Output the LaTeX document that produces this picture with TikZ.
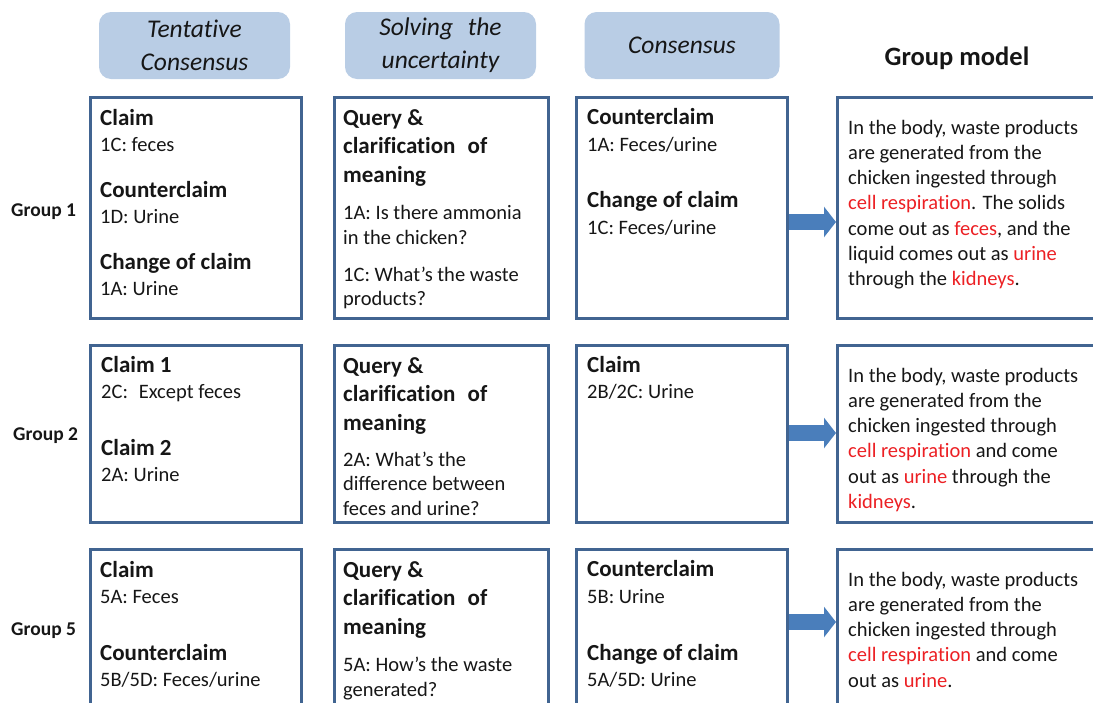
\documentclass[tikz,border=0pt]{standalone}
\usepackage{fontspec}
\setmainfont{Carlito}[Ligatures={NoCommon}]
\usetikzlibrary{arrows.meta}
\definecolor{hdrfill}{RGB}{185,205,229}
\definecolor{boxline}{RGB}{65,100,145}
\definecolor{arrowblue}{RGB}{74,126,187}
\definecolor{txtred}{RGB}{236,32,36}
\definecolor{txtdark}{RGB}{22,22,22}

\begin{document}
\begin{tikzpicture}[x=1pt,y=-1pt,
  hdrbox/.style={fill=hdrfill, rounded corners=12pt, minimum width=191pt,
    minimum height=67pt, inner sep=0pt, align=center, text=txtdark,
    font=\fontsize{25.5}{33}\selectfont\itshape},
  cellbox/.style={draw=boxline, line width=3pt, anchor=north west,
    inner sep=0pt, outer sep=0pt},
  headtxt/.style={anchor=base west, inner sep=0pt, text=txtdark,
    font=\fontsize{23}{28}\selectfont\bfseries},
  bodytxt/.style={anchor=base west, inner sep=0pt, text=txtdark,
    font=\fontsize{20.5}{25}\selectfont},
  grouptxt/.style={anchor=base west, inner sep=0pt, text=txtdark,
    font=\fontsize{19.5}{24}\selectfont\bfseries},
  flow/.style={draw=arrowblue, line width=16pt,
    -{Triangle[length=12pt,width=30pt]}, shorten >=1.5pt}
]
\useasboundingbox (0,0) rectangle (1093,702);
\clip (0,0) rectangle (1093,702);

% ---- column headers ----
\node[hdrbox] (h1) at (194.5,45.5) {Tentative\\Consensus};
\node[hdrbox] (h2) at (440.5,45.5) {Solving\hspace{0.35em} the\\uncertainty};
\node[hdrbox, minimum width=195pt] (h3) at (682,45.5) {Consensus};
\node[anchor=base, inner sep=0pt, text=txtdark,
  font=\fontsize{26.5}{31}\selectfont\bfseries] (h4) at (957,65) {Group model};

% ---- group labels ----
\node[grouptxt] (g1) at (11,216) {Group 1};
\node[grouptxt] (g2) at (13,440) {Group 2};
\node[grouptxt] (g5) at (11,635) {Group 5};

% ---- boxes: row 1 ----
\node[cellbox, minimum width=211pt, minimum height=221pt] (c11) at (90.5,97.5) {};
\node[cellbox, minimum width=214pt, minimum height=221pt] (c12) at (334.5,97.5) {};
\node[cellbox, minimum width=211pt, minimum height=221pt] (c13) at (576.5,97.5) {};
\node[cellbox, minimum width=300pt, minimum height=221pt] (c14) at (837.5,97.5) {};
% ---- boxes: row 2 ----
\node[cellbox, minimum width=211pt, minimum height=177pt] (c21) at (90.5,345.5) {};
\node[cellbox, minimum width=214pt, minimum height=177pt] (c22) at (334.5,345.5) {};
\node[cellbox, minimum width=211pt, minimum height=177pt] (c23) at (576.5,345.5) {};
\node[cellbox, minimum width=300pt, minimum height=177pt] (c24) at (837.5,345.5) {};
% ---- boxes: row 3 ----
\node[cellbox, minimum width=211pt, minimum height=210pt] (c31) at (90.5,549.5) {};
\node[cellbox, minimum width=214pt, minimum height=210pt] (c32) at (334.5,549.5) {};
\node[cellbox, minimum width=211pt, minimum height=210pt] (c33) at (576.5,549.5) {};
\node[cellbox, minimum width=300pt, minimum height=210pt] (c34) at (837.5,549.5) {};

% ---- arrows towards the group models ----
\draw[flow] ([xshift=1.5pt,yshift=-14pt]c13.east) -- ([yshift=-14pt]c14.west);
\draw[flow] ([xshift=1.5pt,yshift=1pt]c23.east) -- ([yshift=1pt]c24.west);
\draw[flow] ([xshift=1.5pt,yshift=32.5pt]c33.east) -- ([yshift=32.5pt]c34.west);

% ---- row 1 texts ----
\node[headtxt] (a11) at (100,125) {Claim};
\node[bodytxt] (b11) at (100,151) {1C: feces};
\node[headtxt] (a12) at (100,197) {Counterclaim};
\node[bodytxt] (b12) at (100,223) {1D: Urine};
\node[headtxt] (a13) at (100,269) {Change of claim};
\node[bodytxt] (b13) at (100,295) {1A: Urine};

\node[headtxt] (q11) at (343,125) {Query \&};
\node[headtxt] (q12) at (343,153.5) {clarification\hspace{0.3em} of};
\node[headtxt] (q13) at (343,182) {meaning};
\node[bodytxt] (r11) at (343,219) {1A: Is there ammonia};
\node[bodytxt] (r12) at (343,244) {in the chicken?};
\node[bodytxt] (r13) at (343,281) {1C: What’s the waste};
\node[bodytxt] (r14) at (343,305.5) {products?};

\node[headtxt] (k11) at (587,124) {Counterclaim};
\node[bodytxt] (l11) at (587,151) {1A: Feces/urine};
\node[headtxt] (k12) at (587,207) {Change of claim};
\node[bodytxt] (l12) at (587,234) {1C: Feces/urine};

\foreach \ln [count=\k from 0] in {{In the body, waste products},
    {are generated from the},
    {chicken ingested through},
    {{\color{txtred}cell respiration}. The solids},
    {come out as {\color{txtred}feces}, and the},
    {liquid comes out as {\color{txtred}urine}},
    {through the {\color{txtred}kidneys}.}}
  \node[bodytxt] (m1-\k) at (848,{134+25.3*\k}) {\ln};

% ---- row 2 texts ----
\node[headtxt] (a21) at (101,372) {Claim 1};
\node[bodytxt] (b21) at (101,398) {2C:\hspace{0.3em} Except feces};
\node[headtxt] (a22) at (101,455) {Claim 2};
\node[bodytxt] (b22) at (101,481) {2A: Urine};

\node[headtxt] (q21) at (343,373) {Query \&};
\node[headtxt] (q22) at (343,401.5) {clarification\hspace{0.3em} of};
\node[headtxt] (q23) at (343,430) {meaning};
\node[bodytxt] (r21) at (343,466) {2A: What’s the};
\node[bodytxt] (r22) at (343,490.5) {difference between};
\node[bodytxt] (r23) at (343,515) {feces and urine?};

\node[headtxt] (k21) at (587,372) {Claim};
\node[bodytxt] (l21) at (587,398) {2B/2C: Urine};

\foreach \ln [count=\k from 0] in {{In the body, waste products},
    {are generated from the},
    {chicken ingested through},
    {{\color{txtred}cell respiration} and come},
    {out as {\color{txtred}urine} through the},
    {{\color{txtred}kidneys}.}}
  \node[bodytxt] (m2-\k) at (848,{382+25.3*\k}) {\ln};

% ---- row 3 texts ----
\node[headtxt] (a31) at (100,577) {Claim};
\node[bodytxt] (b31) at (100,603) {5A: Feces};
\node[headtxt] (a32) at (100,660) {Counterclaim};
\node[bodytxt] (b32) at (100,686) {5B/5D: Feces/urine};

\node[headtxt] (q31) at (343,577) {Query \&};
\node[headtxt] (q32) at (343,605.5) {clarification\hspace{0.3em} of};
\node[headtxt] (q33) at (343,634) {meaning};
\node[bodytxt] (r31) at (343,671) {5A: How’s the waste};
\node[bodytxt] (r32) at (343,696) {generated?};

\node[headtxt] (k31) at (587,576) {Counterclaim};
\node[bodytxt] (l31) at (587,603) {5B: Urine};
\node[headtxt] (k32) at (587,660) {Change of claim};
\node[bodytxt] (l32) at (587,686) {5A/5D: Urine};

\foreach \ln [count=\k from 0] in {{In the body, waste products},
    {are generated from the},
    {chicken ingested through},
    {{\color{txtred}cell respiration} and come},
    {out as {\color{txtred}urine}.}}
  \node[bodytxt] (m3-\k) at (848,{586+25.3*\k}) {\ln};
\end{tikzpicture}
\end{document}
